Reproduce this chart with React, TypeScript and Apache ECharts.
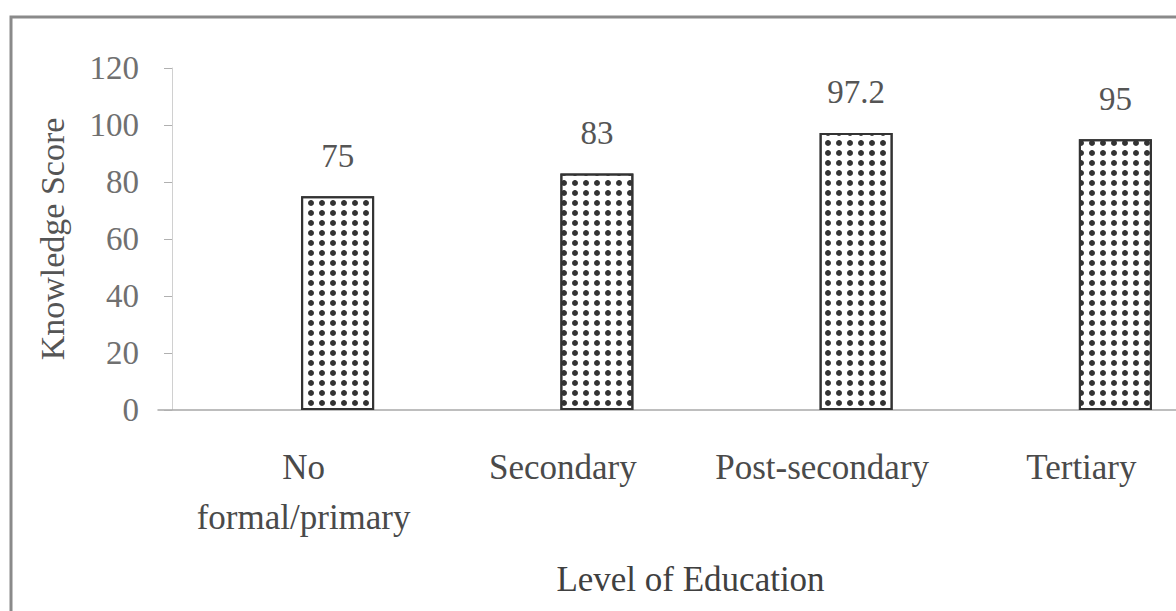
import React, { useEffect, useRef } from "react";
import * as echarts from "echarts";

const categories = ["No\nformal/primary", "Secondary", "Post-secondary", "Tertiary"];
const scores = [75, 83, 97.2, 95];
const yMin = 0;
const yMax = 120;
const yStep = 20;
const yAxisTitle = "Knowledge Score";
const xAxisTitle = "Level of Education";

const FONT = "'Liberation Serif', 'Times New Roman', serif";

export default function App() {
  const ref = useRef<HTMLDivElement>(null);
  useEffect(() => {
    if (!ref.current) return;
    const chart = echarts.init(ref.current, undefined, { renderer: "svg" });
    chart.setOption({
      animation: false,
      backgroundColor: "#ffffff",
      aria: { enabled: true, decal: { show: true } },
      graphic: [
        {
          type: "rect",
          z: -1,
          shape: { x: 11, y: 17, width: 1400, height: 800 },
          style: { fill: "none", stroke: "#8a8a8a", lineWidth: 3 },
        },
      ],
      grid: [
        { left: 158, top: 68, width: 1100, height: 342, containLabel: false, outerBoundsMode: "none" },
        { left: 208, top: 68, width: 1037, height: 342, containLabel: false, outerBoundsMode: "none" },
      ],
      xAxis: [
        {
          gridIndex: 0,
          type: "value",
          min: 0,
          max: 1,
          axisLine: { show: true, lineStyle: { color: "#a8a8a8", width: 1.5 } },
          axisTick: { show: false },
          axisLabel: { show: false },
          splitLine: { show: false },
        },
        {
          gridIndex: 1,
          type: "category",
          data: categories,
          axisLine: { show: false },
          axisTick: { show: false },
          axisLabel: {
            interval: 0,
            margin: 32,
            fontFamily: FONT,
            fontSize: 35,
            lineHeight: 50,
            color: "#4a4a4a",
            padding: [0, 68, 0, 0],
          },
          name: xAxisTitle,
          nameLocation: "middle",
          nameGap: 152,
          nameTextStyle: {
            fontFamily: FONT,
            fontSize: 35,
            color: "#404040",
            padding: [0, 72, 0, 0],
          },
        },
      ],
      yAxis: [
        {
          gridIndex: 0,
          type: "value",
          min: yMin,
          max: yMax,
          interval: yStep,
          offset: -14,
          axisLine: { show: true, lineStyle: { color: "#d0d0d0", width: 1 } },
          axisTick: { show: true, length: 8, lineStyle: { color: "#b0b0b0" } },
          axisLabel: {
            margin: 33,
            fontFamily: FONT,
            fontSize: 33,
            color: "#707070",
          },
          splitLine: { show: false },
          name: yAxisTitle,
          nameLocation: "middle",
          nameGap: 103,
          nameTextStyle: { fontFamily: FONT, fontSize: 34, color: "#555555" },
        },
        { gridIndex: 1, type: "value", min: yMin, max: yMax, show: false },
      ],
      series: [
        {
          type: "bar",
          xAxisIndex: 1,
          yAxisIndex: 1,
          data: scores,
          barWidth: 73,
          itemStyle: {
            color: "#ffffff",
            borderColor: "#333333",
            borderWidth: 2,
            decal: {
              symbol: "circle",
              symbolSize: 1,
              color: "#333333",
              backgroundColor: "#ffffff",
              dashArrayX: [6, 5],
              dashArrayY: [6, 4],
              rotation: 0,
            },
          },
          label: {
            show: true,
            position: "top",
            distance: 24,
            fontFamily: FONT,
            fontSize: 33,
            color: "#555555",
          },
        },
      ],
    });
    return () => chart.dispose();
  }, []);
  return (
    <div
      ref={ref}
      style={{ position: "fixed", left: 0, top: 0, width: 1176, height: 611 }}
    />
  );
}
